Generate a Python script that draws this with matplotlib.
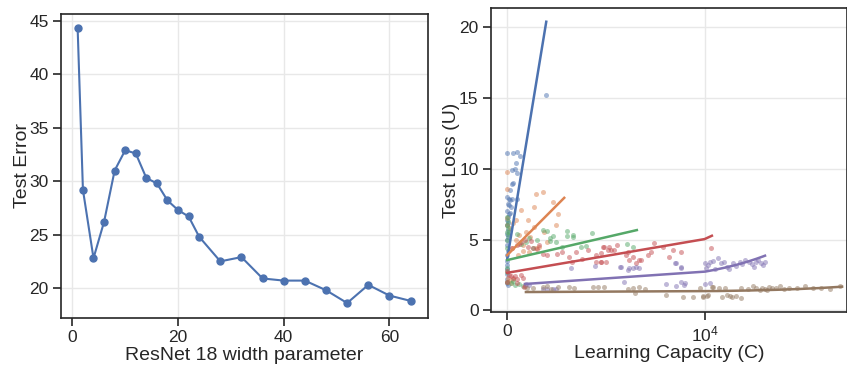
import numpy as np
import matplotlib
matplotlib.use("Agg")
import matplotlib.pyplot as plt

plt.rcParams['font.family'] = ['Liberation Sans', 'DejaVu Sans']
plt.rcParams['mathtext.fontset'] = 'custom'
plt.rcParams['mathtext.rm'] = 'Liberation Sans'
plt.rcParams['mathtext.it'] = 'Liberation Sans:italic'

# ---------------- Left panel data ----------------
width_param = [1, 2, 4, 6, 8, 10, 12, 14, 16, 18, 20, 22, 24, 28, 32, 36, 40, 44, 48, 52, 56, 60, 64]
test_error = [44.3, 29.2, 22.8, 26.2, 31.0, 32.9, 32.6, 30.3, 29.8, 28.2, 27.3, 26.7, 24.8,
              22.5, 22.9, 20.9, 20.7, 20.7, 19.8, 18.6, 20.3, 19.3, 18.8]

# ---------------- Right panel data ----------------
blue_x = [0, 280, 500, 650, 450, 380, 220, 475, 290, 220, 150, 0, 100, 250, 480, 150, 50, 100, 0, 80,
          20, 0, 60, 0, 30, 0, 10, 0, 20, 0, 0, 0, 10, 0, 0, 0, 20, 1950, 120, 200, 60]
blue_y = [11.1, 11.1, 11.2, 10.9, 10.4, 10.0, 9.95, 9.7, 9.0, 8.9, 8.5, 8.0, 7.9, 7.85, 7.9, 7.8, 7.5, 7.45,
          7.0, 6.8, 6.6, 6.4, 6.2, 6.0, 5.7, 5.4, 5.0, 4.6, 4.2, 3.9, 3.5, 3.2, 2.9, 2.6, 2.2, 1.9, 1.8,
          15.2, 6.9, 7.3, 5.2]

orange_x = [0, 0, 1450, 1790, 2300, 1370, 700, 1030, 440, 2470, 1370, 950, 1880, 1170, 440, 780, 1450,
            1120, 1620, 0, 100, 200, 300, 50, 0, 0, 150, 300, 600, 800, 2000, 2600, 250, 550]
orange_y = [9.8, 8.55, 8.2, 8.38, 7.68, 7.3, 7.1, 6.38, 6.38, 6.03, 5.9, 5.56, 5.56, 5.2, 4.97, 4.6, 4.38,
            4.14, 4.5, 2.0, 2.1, 1.9, 2.2, 2.3, 6.5, 6.0, 5.8, 6.2, 5.3, 4.2, 4.8, 6.8, 4.4, 3.9]

green_x = [2000, 3010, 4280, 3350, 3010, 2150, 2170, 1120, 950, 2470, 2800, 3740, 4000, 1290, 1790, 2320,
           3320, 6080, 6360, 0, 20, 0, 50, 0, 30, 80, 0, 0, 10, 0, 0, 200, 400, 600, 300, 800, 500, 1500, 700]
green_y = [5.6, 5.6, 5.49, 5.2, 5.25, 5.09, 4.92, 5.09, 4.85, 4.8, 4.45, 4.45, 4.55, 4.38, 5.67, 5.25,
           5.32, 4.7, 4.45, 6.6, 6.3, 6.0, 5.8, 5.5, 5.3, 5.5, 5.0, 4.4, 3.0, 2.7, 2.0, 1.95, 1.8, 1.85,
           2.05, 1.75, 5.4, 5.0, 4.7]

red_x = [4920, 5090, 5590, 5420, 4750, 6100, 6025, 6360, 6700, 6790, 6530, 4750, 5000, 7120, 7290, 7460,
         7880, 8390, 8820, 8220, 10900, 1030, 1290, 1620, 600, 3150, 3490, 4080, 4500, 4840, 5180, 5250,
         4500, 4750, 6190, 0, 100, 200, 300, 400, 500, 700, 800, 0, 830, 900, 500, 250, 500, 700, 900,
         1200, 1500, 1800, 2000, 2500, 3800, 3300, 2800]
red_y = [4.5, 4.26, 4.6, 4.26, 4.03, 4.14, 3.9, 3.75, 3.55, 3.55, 3.32, 3.43, 3.43, 3.9, 4.14, 4.73,
         4.45, 4.26, 4.14, 3.75, 4.38, 4.5, 4.38, 4.6, 4.7, 3.79, 4.14, 4.26, 3.9, 4.5, 4.5, 4.26,
         3.43, 3.43, 3.55, 2.8, 2.5, 2.4, 2.3, 2.45, 2.2, 2.5, 2.3, 2.0, 1.67, 1.75, 1.9, 4.4, 4.6, 4.8,
         5.0, 4.9, 4.3, 4.0, 3.9, 4.0, 3.6, 3.4, 4.1]

purple_x = [10000, 10700, 11100, 11900, 12400, 13300, 14400, 15800, 16800, 17900, 19100, 20000, 20900,
            21400, 21900, 10200, 10500, 11500, 12800, 13800, 15000, 16200, 18500, 19600, 10000, 10700,
            5770, 6100, 6360, 6700, 8480, 8820, 5940, 8050, 8560, 8820, 8980, 950, 1120, 1790, 2000,
            2300, 2470, 3230, 4470, 5700, 6190, 6530, 8560, 8820, 8990]
purple_y = [3.32, 3.43, 3.5, 3.67, 3.32, 3.08, 3.32, 3.43, 3.55, 3.43, 3.08, 3.55, 3.32, 3.2, 3.43, 3.0,
            3.2, 2.95, 3.4, 2.9, 3.1, 3.3, 3.25, 3.4, 1.86, 1.9, 3.08, 2.85, 2.97, 3.0, 3.32, 3.04, 2.02,
            1.86, 1.72, 2.02, 1.8, 1.86, 1.8, 1.53, 1.53, 1.5, 1.53, 2.97, 3.15, 3.08, 2.97, 3.08, 3.32,
            2.97, 1.9]

brown_x = [1790, 2200, 2600, 3150, 3400, 4330, 4600, 4900, 6100, 6400, 6700, 7000, 6500, 8050, 8900, 9400,
           9900, 10500, 11000, 12000, 13300, 14200, 15000, 16100, 17500, 18700, 19500, 20500, 21000,
           21900, 22500, 23000, 24000, 25400, 26500, 28000, 30000, 33000, 36800, 41000, 45000, 51000,
           57700, 9750, 11100, 13000, 9900, 10300, 12500, 14000, 16100, 1000, 1300, 2000]
brown_y = [1.67, 1.5, 1.67, 1.67, 1.6, 1.67, 1.67, 1.67, 1.48, 1.55, 1.67, 1.48, 1.2, 1.08, 0.96, 0.96,
           1.0, 1.08, 1.67, 1.6, 1.08, 0.96, 1.0, 1.6, 1.5, 1.72, 1.55, 1.45, 1.6, 1.5, 1.4, 1.65, 1.55,
           1.55, 1.7, 1.5, 1.6, 1.55, 1.72, 1.55, 1.6, 1.5, 1.75, 1.55, 1.63, 1.55, 0.96, 1.0, 0.95, 1.0,
           0.9, 1.6, 1.55, 1.7]

# fitted line endpoints (x start, x end, y start, y end)
fit_x0 = [0, 0, 0, 0, 900, 950]
fit_x1 = [1980, 2890, 6570, 11000, 21900, 59500]
fit_y0 = [3.6, 3.9, 3.55, 2.65, 1.86, 1.29]
fit_y1 = [20.4, 7.95, 5.67, 5.27, 3.86, 1.67]

colors = ['#4C72B0', '#DD8452', '#55A868', '#C44E52', '#8172B3', '#937860']
scatter_x = [blue_x, orange_x, green_x, red_x, purple_x, brown_x]
scatter_y = [blue_y, orange_y, green_y, red_y, purple_y, brown_y]

text_color = '#262626'
grid_color = '#E8E8E8'

fig = plt.figure(figsize=(8.47, 3.66), dpi=100)
ax1 = fig.add_axes([61 / 847, 1 - 318 / 366, (428 - 61) / 847, (318 - 14) / 366])
ax2 = fig.add_axes([491 / 847, 1 - 311.7 / 366, (846.5 - 491) / 847, (311.7 - 8.3) / 366])

for ax in (ax1, ax2):
    ax.set_axisbelow(True)
    ax.grid(True, color=grid_color, linewidth=1.0)
    for s in ax.spines.values():
        s.set_color(text_color)
        s.set_linewidth(1.2)
    ax.tick_params(axis='both', which='major', direction='out', length=6, width=1.2,
                   color=text_color, labelcolor=text_color, labelsize=12.5, pad=3)

# Left
ax1.plot(width_param, test_error, color='#4C72B0', linewidth=1.5, marker='o', markersize=5)
ax1.set_xlim(-2.15, 67.3)
ax1.set_ylim(17.2, 45.65)
ax1.set_xticks([0, 20, 40, 60])
ax1.set_yticks([20, 25, 30, 35, 40, 45])
ax1.set_xlabel('ResNet 18 width parameter', fontsize=14, color=text_color, labelpad=1)
ax1.set_ylabel('Test Error', fontsize=14, color=text_color, labelpad=-1)

# Right
ax2.set_xscale('symlog', linthresh=1e4)
for c, xs, ys in zip(colors, scatter_x, scatter_y):
    ax2.scatter(xs, ys, s=13, color=c, alpha=0.5, linewidths=0)
for c, x0, x1, y0, y1 in zip(colors, fit_x0, fit_x1, fit_y0, fit_y1):
    xx = np.linspace(x0, x1, 200)
    yy = np.interp(xx, [x0, x1], [y0, y1])
    ax2.plot(xx, yy, color=c, linewidth=1.8)
ax2.set_xlim(-820, 63000)
ax2.set_ylim(-0.1, 21.35)
ax2.set_xticks([0, 1e4])
ax2.set_xticklabels(['0', r'$\mathdefault{10^{4}}$'])
ax2.xaxis.set_minor_locator(matplotlib.ticker.NullLocator())
ax2.set_yticks([0, 5, 10, 15, 20])
ax2.set_xlabel('Learning Capacity (C)', fontsize=14, color=text_color, labelpad=1)
ax2.set_ylabel('Test Loss (U)', fontsize=14, color=text_color, labelpad=-1)

fig.savefig('out.png', dpi=100)
